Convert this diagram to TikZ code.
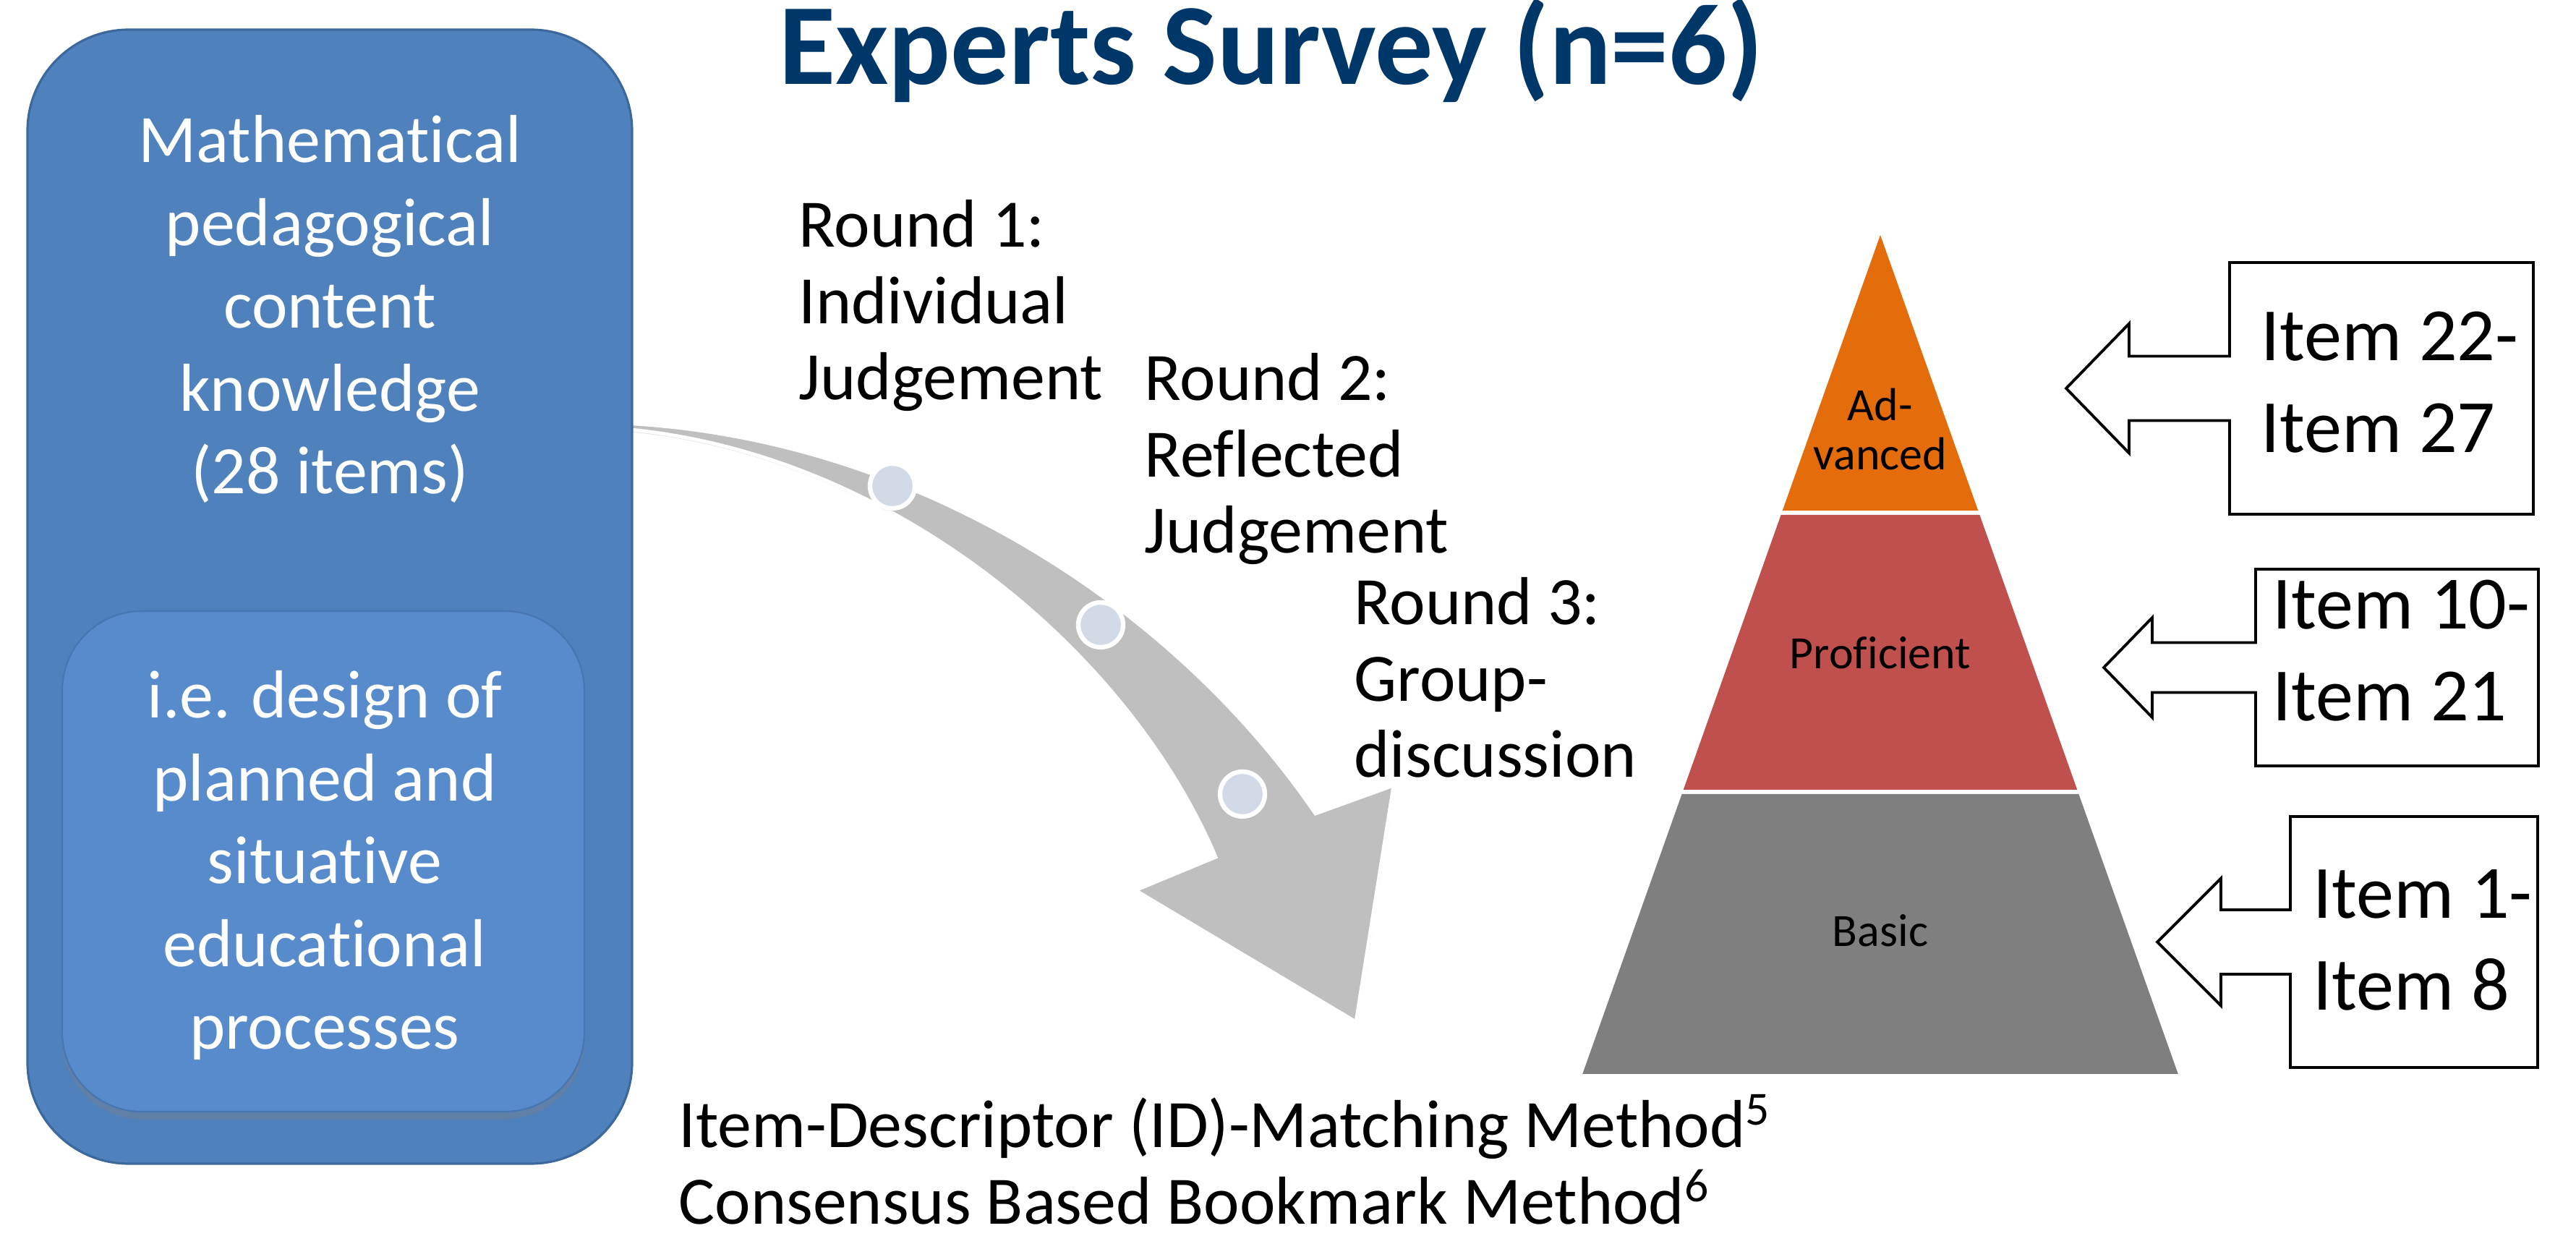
\documentclass[tikz,border=0pt]{standalone}
\usepackage{fontspec}
\setmainfont{Carlito}[Ligatures=NoCommon]
\usetikzlibrary{shadows}
\definecolor{boxblue}{RGB}{79,129,189}
\definecolor{boxline}{RGB}{60,104,156}
\definecolor{innerblue}{RGB}{87,139,204}
\definecolor{innerline}{RGB}{72,118,176}
\definecolor{arrowgray}{RGB}{191,191,191}
\definecolor{dotfill}{RGB}{210,217,231}
\definecolor{titleblue}{RGB}{0,55,105}
\definecolor{lvlorange}{RGB}{228,108,10}
\definecolor{lvlred}{RGB}{192,80,77}
\definecolor{lvlgray}{RGB}{127,127,127}

\begin{document}
\begin{tikzpicture}[
  bigtxt/.style={inner sep=0, anchor=base, text=white, align=center, font=\fontsize{26.7}{32.6}\selectfont},
  roundtxt/.style={inner sep=0, anchor=base west, align=left, font=\fontsize{26.7}{30.1}\selectfont},
  itemtxt/.style={inner sep=0, anchor=base west, align=left, font=\fontsize{29.6}{36.4}\selectfont},
  lvltxt/.style={inner sep=0, anchor=base, align=center, font=\fontsize{18.2}{19.6}\selectfont},
  dot/.style={circle, fill=dotfill, draw=white, line width=1.8pt, minimum size=.62cm, inner sep=0, drop shadow={opacity=.3,shadow xshift=0pt,shadow yshift=-1pt}},
  callout/.style={draw=black, line width=1.1pt, fill=white}
]
\useasboundingbox (0,0) rectangle (35.62,17.09);

\draw[white, line width=1.4pt, fill=arrowgray, drop shadow={opacity=.25,shadow xshift=.5pt,shadow yshift=-1pt}] (8.6,11.24) .. controls (12.6,11.05) and (16.2,8.75) .. (18.19,5.84) -- (19.27,6.23) -- (18.75,2.96) -- (15.70,4.78) -- (16.81,5.24) .. controls (15.6,8.1) and (12.3,10.85) .. (8.6,11.16) -- cycle;
\foreach \i/\x/\y in {1/12.34/10.37, 2/15.22/8.45, 3/17.18/6.11}
  \node[dot] (dot\i) at (\x,\y) {};

\draw[boxline, fill=boxblue, line width=.9pt, rounded corners=1.4cm] (0.38,1.00) rectangle (8.74,16.68);
\draw[innerline, fill=innerblue, line width=.6pt, rounded corners=1.1cm, drop shadow={opacity=.35,shadow xshift=0pt,shadow yshift=-3pt}] (0.86,1.72) rectangle (8.08,8.64);
\node[bigtxt] (pck) at (4.56,10.26) {Mathematical\\pedagogical\\content\\knowledge\\(28 items)};
\node[bigtxt] (design) at (4.49,2.58) {i.e. design of\\planned and\\situative\\educational\\processes};

\node[inner sep=0, anchor=base, text=titleblue, font=\fontsize{45.5}{52}\selectfont\bfseries] (title) at (17.58,15.92) {Experts Survey (n=6)};

\node[roundtxt] (round1) at (11.04,11.56) {Round 1:\\Individual\\Judgement};
\node[roundtxt] (round2) at (15.82,9.44) {Round 2:\\Reflected\\Judgement};
\node[roundtxt] (round3) at (18.72,6.34) {Round 3:\\Group-\\discussion};
\node[inner sep=0, anchor=base west, align=left, font=\fontsize{26.7}{30.2}\selectfont] (methods) at (9.38,0.16) {Item-Descriptor (ID)-Matching Method\textsuperscript{5}\\Consensus Based Bookmark Method\textsuperscript{6}};

\foreach \c/\ya/\yb in {lvlorange/13.84/10.03, lvlred/9.97/6.17, lvlgray/6.11/2.24}
  \fill[\c] ({26-.355*(13.84-\ya)},\ya) -- ({26+.355*(13.84-\ya)},\ya) -- ({26+.355*(13.84-\yb)},\yb) -- ({26-.355*(13.84-\yb)},\yb) -- cycle;
\node[lvltxt] (adv) at (26,10.59) {Ad-\\vanced};
\node[lvltxt] (prof) at (26,7.84) {Proficient};
\node[lvltxt] (basic) at (26,4.00) {Basic};

\foreach \xa/\xb/\yc/\hh/\sh/\hd/\xs/\xt in {30.83/35.03/11.72/1.74/.445/.895/29.44/28.57, 31.19/35.10/7.86/1.36/.345/.69/29.76/29.09, 31.67/35.09/4.065/1.735/.445/.88/30.71/29.83}
  \draw[callout] (\xt,\yc) -- (\xs,{\yc+\hd}) -- (\xs,{\yc+\sh}) -- (\xa,{\yc+\sh}) -- (\xa,{\yc+\hh}) -- (\xb,{\yc+\hh}) -- (\xb,{\yc-\hh}) -- (\xa,{\yc-\hh}) -- (\xa,{\yc-\sh}) -- (\xs,{\yc-\sh}) -- (\xs,{\yc-\hd}) -- cycle;
\node[itemtxt] (items3) at (31.26,10.83) {Item 22-\\Item 27};
\node[itemtxt] (items2) at (31.42,7.12) {Item 10-\\Item 21};
\node[itemtxt] (items1) at (31.98,3.12) {Item 1-\\Item 8};

\end{tikzpicture}
\end{document}
